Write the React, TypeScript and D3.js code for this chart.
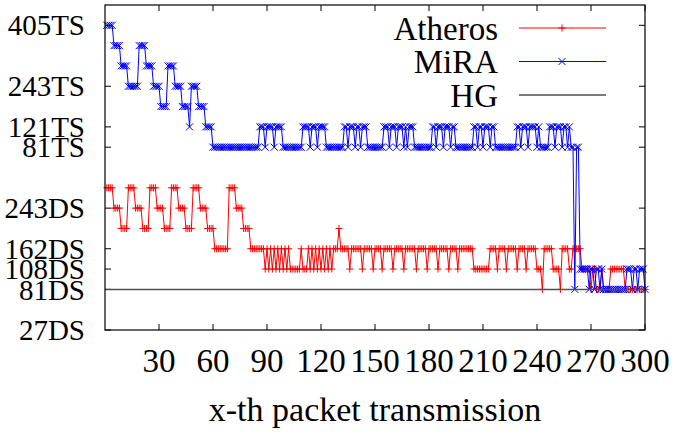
import { useRef, useEffect } from "react";
import * as d3 from "d3";

// rate levels: 0 = 27DS ... 15 = 405TS, tick labels only on some of them
const yTickLevels = [0, 2, 3, 4, 6, 9, 10, 12, 15];
const yTickLabels = ["27DS", "81DS", "108DS", "162DS", "243DS", "81TS", "121TS", "243TS", "405TS"];
const xTicks = [30, 60, 90, 120, 150, 180, 210, 240, 270, 300];

// [first packet, rate level] runs
const atherosRuns: [number, number][] = [
  [1, 7], [5, 6], [9, 5], [13, 7], [17, 6], [21, 5], [25, 7], [29, 6], [33, 5], [37, 7], [41, 6], [45, 5],
  [49, 7], [53, 6], [57, 5], [61, 4], [69, 7], [73, 6], [77, 5], [81, 4],
  [89, 3], [90, 4], [91, 3], [92, 4], [93, 3], [94, 4], [95, 3], [96, 4], [97, 3], [98, 4], [99, 3], [100, 4],
  [101, 3], [102, 4], [103, 3], [109, 4], [110, 3], [113, 4], [114, 3], [115, 4], [116, 3], [117, 4], [118, 3],
  [119, 4], [120, 3], [121, 4], [122, 3], [123, 4], [124, 3], [125, 4], [126, 3], [127, 4], [130, 5], [131, 4],
  [136, 3], [137, 4], [143, 3], [144, 4], [149, 3], [150, 4], [154, 3], [155, 4], [160, 3], [161, 4],
  [166, 3], [167, 4], [173, 3], [174, 4], [179, 3], [180, 4], [185, 3], [186, 4], [191, 3], [192, 4],
  [196, 3], [197, 4], [205, 3], [214, 4], [218, 3], [219, 4], [223, 3], [224, 4], [229, 3], [230, 4],
  [234, 3], [235, 4], [240, 3], [243, 2], [244, 4], [249, 3], [253, 2], [254, 4], [258, 3], [260, 4],
  [265, 3], [270, 2], [271, 3], [273, 2], [276, 3], [277, 2], [281, 3], [289, 2],
];

const miraRuns: [number, number][] = [
  [1, 15], [5, 14], [9, 13], [13, 12], [19, 14], [23, 13], [27, 12], [31, 11], [35, 13], [39, 12], [43, 11],
  [47, 10], [48, 12], [52, 11], [56, 10], [60, 9],
  [86, 10], [89, 9], [90, 10], [94, 9], [95, 10], [99, 9],
  [110, 10], [114, 9], [115, 10], [118, 9], [119, 10], [123, 9],
  [133, 10], [135, 9], [136, 10], [139, 9], [140, 10], [142, 9], [143, 10], [146, 9],
  [155, 10], [158, 9], [159, 10], [162, 9], [163, 10], [166, 9], [167, 10], [168, 9], [169, 10], [172, 9],
  [182, 10], [184, 9], [185, 10], [188, 9], [189, 10], [192, 9], [193, 10], [195, 9],
  [205, 10], [207, 9], [208, 10], [210, 9], [211, 10], [214, 9], [215, 10], [217, 9],
  [229, 10], [231, 9], [232, 10], [235, 9], [236, 10], [240, 9], [241, 10], [242, 9],
  [247, 10], [250, 9], [251, 10], [254, 9], [255, 10], [257, 9], [258, 10], [259, 9], [261, 2], [262, 9],
  [264, 3], [269, 2], [270, 3], [272, 2], [273, 3], [275, 2], [276, 3], [277, 2], [290, 3], [293, 2],
  [294, 3], [296, 2], [297, 3], [300, 2],
];

const hgLevel = 2;
const lastPacket = 300;

const series = [
  { name: "Atheros", color: "#ff0000", runs: atherosRuns, marker: "plus" },
  { name: "MiRA", color: "#0000ff", runs: miraRuns, marker: "cross" },
];

function expandRuns(runs: [number, number][]) {
  const pts: { x: number; y: number }[] = [];
  runs.forEach(([start, level], i) => {
    const end = i < runs.length - 1 ? runs[i + 1][0] - 1 : lastPacket;
    for (let x = start; x <= end; x++) pts.push({ x, y: level });
  });
  return pts;
}

const font = "'Liberation Serif', 'Times New Roman', serif";

export default function App() {
  const svgRef = useRef<SVGSVGElement>(null);

  useEffect(() => {
    document.body.style.margin = "0";
    const svg = d3.select(svgRef.current);
    svg.selectAll("*").remove();

    const width = 677;
    const height = 434;
    const margin = { top: 5, right: 32, bottom: 104, left: 105 };

    const x = d3.scaleLinear().domain([0, 300]).range([margin.left, width - margin.right]);
    const y = d3.scaleLinear().domain([0, 16]).range([height - margin.bottom, margin.top]);

    const x0 = margin.left, x1 = width - margin.right;
    const y0 = height - margin.bottom, y1 = margin.top;
    const tick = 6;

    const g = svg.append("g");

    // ticks (inward, on all four sides)
    xTicks.forEach(t => {
      g.append("line").attr("x1", x(t)).attr("x2", x(t)).attr("y1", y0).attr("y2", y0 - tick)
        .attr("stroke", "black");
      g.append("line").attr("x1", x(t)).attr("x2", x(t)).attr("y1", y1).attr("y2", y1 + tick)
        .attr("stroke", "black");
      g.append("text").attr("x", x(t)).attr("y", y0 + 42).attr("text-anchor", "middle")
        .style("font-family", font).style("font-size", "33px").text(t);
    });
    yTickLevels.forEach((lv, i) => {
      g.append("line").attr("x1", x0).attr("x2", x0 + tick).attr("y1", y(lv)).attr("y2", y(lv))
        .attr("stroke", "black");
      g.append("line").attr("x1", x1).attr("x2", x1 - tick).attr("y1", y(lv)).attr("y2", y(lv))
        .attr("stroke", "black");
      g.append("text").attr("x", x0 - 20).attr("y", y(lv)).attr("dy", "0.35em")
        .attr("text-anchor", "end")
        .style("font-family", font).style("font-size", "29px").text(yTickLabels[i]);
    });

    const line = d3.line<{ x: number; y: number }>().x(d => x(d.x)).y(d => y(d.y));
    const m = 3.5;

    series.forEach(s => {
      const pts = expandRuns(s.runs);
      g.append("path").datum(pts).attr("fill", "none").attr("stroke", s.color)
        .attr("stroke-width", 1).attr("d", line);
      g.append("g").selectAll("path").data(pts).enter().append("path")
        .attr("d", d => {
          const cx = x(d.x), cy = y(d.y);
          return s.marker === "plus"
            ? `M${cx - m},${cy}H${cx + m}M${cx},${cy - m}V${cy + m}`
            : `M${cx - m},${cy - m}L${cx + m},${cy + m}M${cx - m},${cy + m}L${cx + m},${cy - m}`;
        })
        .attr("stroke", s.color).attr("stroke-width", 1).attr("fill", "none");
    });

    // HG reference line
    g.append("path").datum([{ x: 0, y: hgLevel }, { x: lastPacket, y: hgLevel }])
      .attr("fill", "none").attr("stroke", "#505050").attr("stroke-width", 1.5).attr("d", line);

    // frame
    g.append("rect").attr("x", x0).attr("y", y1).attr("width", x1 - x0).attr("height", y0 - y1)
      .attr("fill", "none").attr("stroke", "black").attr("stroke-width", 1.2);

    // legend
    const legend = [
      { name: "Atheros", color: "#ff0000", marker: "plus" },
      { name: "MiRA", color: "#0000ff", marker: "cross" },
      { name: "HG", color: "#505050", marker: "none" },
    ];
    legend.forEach((l, i) => {
      const ly = 28 + i * 33.5;
      g.append("text").attr("x", 498).attr("y", ly).attr("dy", "0.35em").attr("text-anchor", "end")
        .style("font-family", font).style("font-size", "33px").text(l.name);
      g.append("line").attr("x1", 519).attr("x2", 606).attr("y1", ly).attr("y2", ly)
        .attr("stroke", l.color).attr("stroke-width", l.marker === "none" ? 1.5 : 1);
      const cx = 562;
      if (l.marker === "plus") {
        g.append("path").attr("d", `M${cx - m},${ly}H${cx + m}M${cx},${ly - m}V${ly + m}`)
          .attr("stroke", l.color);
      } else if (l.marker === "cross") {
        g.append("path")
          .attr("d", `M${cx - m},${ly - m}L${cx + m},${ly + m}M${cx - m},${ly + m}L${cx + m},${ly - m}`)
          .attr("stroke", l.color);
      }
    });

    // axis title
    g.append("text").attr("x", (x0 + x1) / 2).attr("y", 421).attr("text-anchor", "middle")
      .style("font-family", font).style("font-size", "34px").text("x-th packet transmission");
  }, []);

  return <svg ref={svgRef} width={677} height={434} style={{ display: "block" }} />;
}
